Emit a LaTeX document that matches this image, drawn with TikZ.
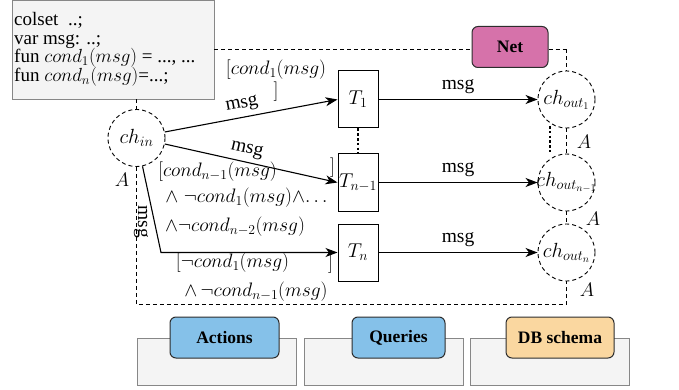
\RequirePackage{fix-cm}
\documentclass[tikz,border=0pt]{standalone}
\usepackage[no-math]{fontspec}
\setmainfont{Liberation Serif}
\usetikzlibrary{arrows.meta,calc}
\definecolor{netpink}{RGB}{214,114,170}
\definecolor{tabblue}{RGB}{133,193,233}
\definecolor{tabpeach}{RGB}{250,215,160}
\definecolor{boxgray}{RGB}{244,244,244}
\definecolor{boxline}{RGB}{135,135,135}
\definecolor{tabline}{RGB}{45,45,45}
\tikzset{
  lbl/.style={font=\fontsize{19.5}{21}\selectfont, inner sep=0pt, outer sep=0pt},
  boxtxt/.style={font=\fontsize{19}{19}\selectfont, inner sep=0pt, anchor=base west},
  place/.style={circle, draw, dash pattern=on 4pt off 3pt, line width=0.9pt, fill=white, minimum size=57pt, inner sep=0pt, font=\fontsize{20.5}{20.5}\selectfont},
  trans/.style={rectangle, draw, line width=1pt, fill=white, minimum width=40pt, minimum height=57pt, inner sep=0pt, font=\fontsize{20}{20}\selectfont},
  arr/.style={-{Stealth[length=12pt,width=9pt,inset=3.5pt]}, line width=1.1pt},
  netline/.style={dash pattern=on 4pt off 3pt, line width=0.9pt},
  dots/.style={line width=2.6pt, dash pattern=on 2.6pt off 2.2pt},
  tab/.style={rectangle, rounded corners=6pt, draw=tabline, line width=1pt, inner sep=0pt, minimum height=41pt, font=\fontsize{17.5}{17.5}\selectfont\bfseries},
  panel/.style={rectangle, draw=boxline, fill=boxgray, line width=0.9pt, minimum width=159pt, minimum height=47pt, inner sep=0pt},
}
\newcommand{\ctext}[1]{\makebox[0pt]{#1}}
\begin{document}
\begin{tikzpicture}[x=1pt,y=-1pt]
\useasboundingbox (0,0) rectangle (679,390);
% coordinates of the Net frame
\coordinate (tl) at (136.5,49.5);
\coordinate (tr) at (566.5,49.5);
\coordinate (bl) at (136.5,304.5);
\coordinate (br) at (566.5,304.5);
\coordinate (c3) at (161,252.5);

% declarations box
\node[rectangle, draw=boxline, fill=boxgray, line width=0.9pt, minimum width=202pt, minimum height=98.5pt, inner sep=0pt] (defs) at (113,49.75) {};
\node[boxtxt] (d1) at (14,26) {colset\ \ ..;};
\node[boxtxt] (d2) at (14,44.5) {var msg: ..;};
\node[boxtxt] (d3) at (14,63) {fun $cond_1(msg)$ = ..., ...};
\node[boxtxt] (d4) at (14,81.5) {fun $cond_n(msg)$=...;};

\node[tab, fill=netpink, minimum width=76pt] (net) at (510,47) {Net};

% frame (drawn before the places so they cover it)
\draw[netline] (defs.east |- tl) -- (net.west |- tl);
\draw[netline] (net.east |- tl) -- (tr);

\node[place] (chin) at (136.5,138) {\ctext{$ch_{in}$}};
\node[place] (o1) at (566.5,99.5) {\ctext{$ch_{out_1}$}};
\node[place] (o2) at (566.5,182.5) {\ctext{$ch_{out_{n-1}}$}};
\node[place] (o3) at (566.5,252.5) {\ctext{$ch_{out_n}$}};

\node[trans] (T1) at (358,99.5) {$T_1$};
\node[trans] (Tn1) at (358,182.5) {\ctext{$T_{n-1}$}};
\node[trans] (Tn) at (358,252.5) {$T_n$};

\draw[netline] (tr) -- (o1.north);
\draw[netline] (chin |- defs.south) -- (chin.north);
\draw[netline] (chin.south) -- (bl) -- (br) -- (o3.south);
\draw[netline] (o1.south) -- (o2.north);
\draw[netline] (o2.south) -- (o3.north);

% dotted separators
\draw[dots] (T1.south) -- (Tn1.north);
\coordinate (q1) at ($(o1.center)+(-16.5,26.5)$);
\coordinate (q2) at ($(o2.center)+(-16.5,-30)$);
\draw[dots] (q1) -- (q2);

% arcs
\draw[arr] (chin.12) -- (T1.west) node[lbl, pos=0.46, sloped, above=5pt] (m1) {msg};
\draw[arr] (chin.-12) -- (Tn1.west) node[lbl, pos=0.46, sloped, above=5pt] (m2) {msg};
\draw[arr] (chin.-78) -- (c3) -- (Tn.west);
\draw[arr] (T1.east) -- (o1.west) node[lbl, midway, above=6pt] (m4) {msg};
\draw[arr] (Tn1.east) -- (o2.west) node[lbl, midway, above=6pt] (m5) {msg};
\draw[arr] (Tn.east) -- (o3.west) node[lbl, midway, above=6pt] (m6) {msg};

% guards
\node[lbl, align=center] (g1) at (276,81) {$[cond_1(msg)$\\[1pt]$]$};
\node[lbl] (g2a) at (217.5,172) {$[cond_{n-1}(msg)$};
\node[lbl] (g2b) at (332.5,168) {$]$};
\node[lbl] (g2c) at (246.5,198) {$\wedge\;\neg cond_1(msg){\wedge}{\ldots}$};
\node[lbl] (g2d) at (235,226.5) {$\wedge\neg cond_{n-2}(msg)$};
\node[lbl] (g3a) at (232.5,263) {$[\neg cond_1(msg)$};
\node[lbl] (g3b) at (330.5,263.5) {$]$};
\node[lbl] (g3c) at (256,292) {$\wedge\,\neg cond_{n-1}(msg)$};
\node[lbl, rotate=-90] (m3) at (141,222) {msg};

% arc inscriptions
\node[lbl] (a0) at (122,180) {$A$};
\node[lbl] (a1) at (584,142) {$A$};
\node[lbl] (a2) at (593,219) {$A$};
\node[lbl] (a3) at (587,290) {$A$};

% bottom panels
\node[panel] (p1) at (216.5,361.5) {};
\node[panel] (p2) at (383.5,361.5) {};
\node[panel] (p3) at (549.5,361.5) {};
\node[tab, fill=tabblue, minimum width=109pt] (act) at (224.5,337.5) {Actions};
\node[tab, fill=tabblue, minimum width=93pt] (qry) at (398.5,337.5) {Queries};
\node[tab, fill=tabpeach, minimum width=108pt] (dbs) at (560,337.5) {DB schema};
\end{tikzpicture}
\end{document}
